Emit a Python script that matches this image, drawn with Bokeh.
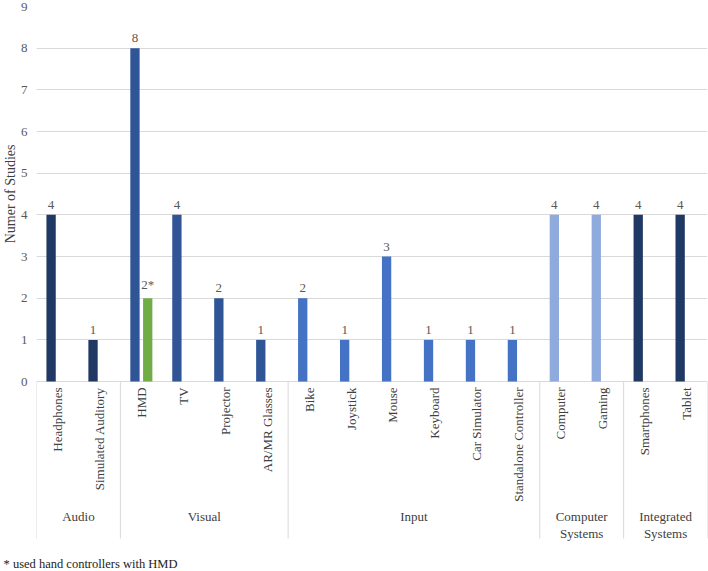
import math
from bokeh.plotting import figure
from bokeh.models import Range1d, FixedTicker, Title
from bokeh.embed import file_html
from bokeh.resources import INLINE
from bokeh.core.properties import value

# ---- data ----
groups = ["Audio", "Visual", "Input", "Computer\nSystems", "Integrated\nSystems"]
group_sizes = [2, 4, 6, 2, 2]
group_colors = ["#203864", "#2f5597", "#4472c4", "#8faadc", "#203864"]
items = ["Headphones", "Simulated Auditory", "HMD", "TV", "Projector", "AR/MR Glasses",
         "Bike", "Joystick", "Mouse", "Keyboard", "Car Simulator", "Standalone Controller",
         "Computer", "Gaming", "Smartphones", "Tablet"]
studies = [4, 1, 8, 4, 2, 1, 2, 1, 3, 1, 1, 1, 4, 4, 4, 4]
hand_ctrl_items = ["HMD"]
hand_ctrl_studies = [2]
hand_ctrl_labels = ["2*"]
hand_ctrl_color = "#70ad47"
y_ticks = list(range(0, 10))
footnote = "* used hand controllers with HMD"
y_title = "Numer of Studies"

# ---- derived positions (category slots) ----
FONT = value("Liberation Serif")
TXT = "#595959"
LBL = "#404040"
centers = [i + 0.5 for i in range(len(items))]
bar_off = 0.152
bar_w = 0.222
xs1 = [c - bar_off for c in centers]
xs2 = [centers[items.index(it)] + bar_off for it in hand_ctrl_items]
colors = []
for g, n in enumerate(group_sizes):
    colors += [group_colors[g]] * n
bounds = [0]
for n in group_sizes:
    bounds.append(bounds[-1] + n)
group_centers = [(bounds[i] + bounds[i + 1]) / 2 for i in range(len(group_sizes))]

Y_BOTTOM = -4.15
SEP_BOTTOM = -3.768

p = figure(width=708, height=571, output_backend="svg", toolbar_location=None,
           x_range=Range1d(0, len(items)), y_range=Range1d(Y_BOTTOM, 9),
           min_border_left=36, min_border_right=1, min_border_top=6, min_border_bottom=17)
p.outline_line_color = None
p.background_fill_color = "white"
p.border_fill_color = "white"

p.xaxis.visible = False
p.xgrid.visible = False
p.yaxis.ticker = FixedTicker(ticks=y_ticks)
p.yaxis.axis_line_color = None
p.yaxis.major_tick_line_color = None
p.yaxis.minor_tick_line_color = None
p.yaxis.major_tick_out = 0
p.yaxis.major_tick_in = 0
p.yaxis.minor_tick_out = 0
p.yaxis.minor_tick_in = 0
p.yaxis.major_label_standoff = 9
p.yaxis.major_label_text_font = "Liberation Serif"
p.yaxis.major_label_text_font_size = "13px"
p.yaxis.major_label_text_color = TXT
p.ygrid.ticker = FixedTicker(ticks=y_ticks)
p.ygrid.grid_line_color = "#d9d9d9"
p.ygrid.grid_line_width = 1

# bars
p.vbar(x=xs1, top=studies, bottom=0, width=bar_w, fill_color=colors, line_color=None)
p.vbar(x=xs2, top=hand_ctrl_studies, bottom=0, width=bar_w, fill_color=hand_ctrl_color, line_color=None)

# value labels
p.text(x=xs1, y=studies, text=[str(v) for v in studies], y_offset=-6,
       text_align="center", text_baseline="bottom", text_font=FONT,
       text_font_size="13px", text_color=TXT)
p.text(x=xs2, y=hand_ctrl_studies, text=hand_ctrl_labels, y_offset=-6,
       text_align="center", text_baseline="bottom", text_font=FONT,
       text_font_size="13px", text_color=TXT)

# group separators
p.segment(x0=bounds, y0=[0] * len(bounds), x1=bounds, y1=[SEP_BOTTOM] * len(bounds),
          line_color="#d9d9d9", line_width=1)

# category labels
p.text(x=centers, y=[-0.14] * len(centers), text=items, angle=math.pi / 2,
       text_align="right", text_baseline="middle", text_font=FONT,
       text_font_size="13px", text_color=LBL)

# group labels
p.text(x=group_centers, y=[-3.06] * len(group_centers), text=groups,
       text_align="center", text_baseline="top", text_font=FONT,
       text_font_size="13px", text_color=LBL, text_line_height=1.15)

# y title (left title, top-anchored)
p.add_layout(Title(text=y_title, align="right", offset=138, standoff=0,
                   text_font="Liberation Serif", text_font_size="14px",
                   text_font_style="normal", text_color=LBL), "left")
# footnote
p.add_layout(Title(text=footnote, align="left", offset=-33, standoff=0,
                   text_font="Liberation Serif", text_font_size="12.5px",
                   text_font_style="normal", text_color="#222222"), "below")

open("out.html", "w").write(file_html(p, INLINE))
